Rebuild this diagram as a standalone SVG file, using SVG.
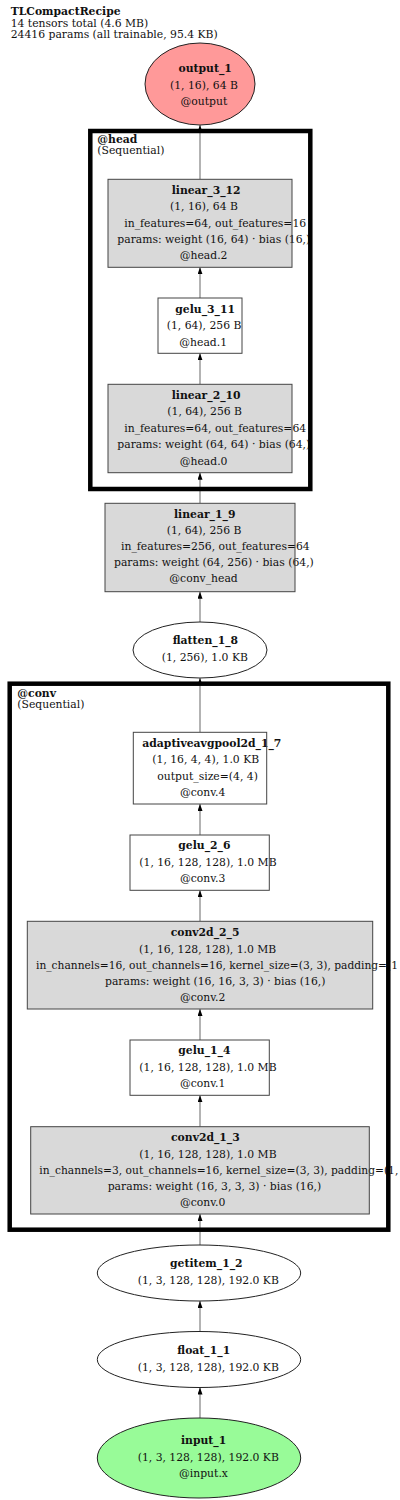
<svg xmlns="http://www.w3.org/2000/svg" width="400" height="1500" viewBox="0 0 400 1500">
<style>
text{font-family:"DejaVu Serif","Liberation Serif",serif;font-size:10.8px;fill:#111}
.b{font-weight:bold}
.fillg{fill:#d9d9d9;stroke:none}
.fillw{fill:#fff;stroke:none}
.bord{fill:none;stroke:#444;stroke-width:1}
.ell{stroke:#222;stroke-width:1}
.edge{stroke:#808080;stroke-width:1.2;fill:none;marker-end:url(#ah)}
.clu{fill:none;stroke:#000;stroke-width:4.5}
</style>
<defs>
<marker id="ah" viewBox="0 0 7 5" refX="7" refY="2.5" markerWidth="7" markerHeight="5" orient="auto" markerUnits="userSpaceOnUse">
<path d="M0,0 L7,2.5 L0,5 z" fill="#000"/>
</marker>
</defs>
<rect width="400" height="1500" fill="#fff"/>

<g id="header">
<text x="10.7" y="15" class="b">TLCompactRecipe</text>
<text x="10.7" y="26.5">14 tensors total (4.6 MB)</text>
<text x="10.7" y="37.5">24416 params (all trainable, 95.4 KB)</text>
</g>

<g id="edges">
<line class="edge" x1="200" y1="1418" x2="200" y2="1387.5"/>
<line class="edge" x1="200" y1="1331.5" x2="200" y2="1301"/>
<line class="edge" x1="200" y1="1245" x2="200" y2="1214"/>
<line class="edge" x1="200" y1="1126.7" x2="200" y2="1095.3"/>
<line class="edge" x1="200" y1="1040" x2="200" y2="1009"/>
<line class="edge" x1="200" y1="921.3" x2="200" y2="890.3"/>
<line class="edge" x1="200" y1="835" x2="200" y2="804"/>
<line class="edge" x1="200" y1="732.3" x2="200" y2="678"/>
<line class="edge" x1="200" y1="622" x2="200" y2="591.7"/>
<line class="edge" x1="200" y1="503.3" x2="200" y2="472.7"/>
<line class="edge" x1="200" y1="384.3" x2="200" y2="353.3"/>
<line class="edge" x1="200" y1="298" x2="200" y2="267.3"/>
<line class="edge" x1="200" y1="179.3" x2="200" y2="125"/>
</g>

<g id="output_1">
<ellipse cx="200" cy="84" rx="55" ry="41" fill="#ff9999" class="ell"/>
<text x="178.5" y="72" class="b">output_1</text>
<text x="170" y="88.5">(1, 16), 64 B</text>
<text x="180.5" y="105">@output</text>
</g>

<g id="linear_3_12">
<rect class="fillg" x="108" y="179.3" width="184" height="88"/>
<text x="171.7" y="193.5" class="b">linear_3_12</text>
<text x="170" y="210">(1, 16), 64 B</text>
<text x="124.3" y="226.5">in_features=64, out_features=16</text>
<text x="117.3" y="243">params: weight (16, 64) · bias (16,)</text>
<text x="179.7" y="259.3">@head.2</text>
<rect class="bord" x="108" y="179.3" width="184" height="88"/>
</g>

<g id="gelu_3_11">
<rect class="fillw" x="158" y="298" width="84" height="55.3"/>
<text x="175.3" y="312.7" class="b">gelu_3_11</text>
<text x="166.7" y="329.3">(1, 64), 256 B</text>
<text x="179.3" y="345.7">@head.1</text>
<rect class="bord" x="158" y="298" width="84" height="55.3"/>
</g>

<g id="linear_2_10">
<rect class="fillg" x="108" y="384.3" width="184" height="88.4"/>
<text x="171.7" y="399" class="b">linear_2_10</text>
<text x="167.3" y="415.3">(1, 64), 256 B</text>
<text x="124.3" y="431.7">in_features=64, out_features=64</text>
<text x="117.3" y="448.3">params: weight (64, 64) · bias (64,)</text>
<text x="179.7" y="464.7">@head.0</text>
<rect class="bord" x="108" y="384.3" width="184" height="88.4"/>
</g>

<g id="linear_1_9">
<rect class="fillg" x="105" y="503.3" width="190" height="88.4"/>
<text x="174" y="517.7" class="b">linear_1_9</text>
<text x="166.7" y="534">(1, 64), 256 B</text>
<text x="121" y="550.3">in_features=256, out_features=64</text>
<text x="114" y="566.3">params: weight (64, 256) · bias (64,)</text>
<text x="169.3" y="582.3">@conv_head</text>
<rect class="bord" x="105" y="503.3" width="190" height="88.4"/>
</g>

<g id="flatten_1_8">
<ellipse cx="200" cy="650" rx="67" ry="28" fill="#fff" class="ell"/>
<text x="172.7" y="644" class="b">flatten_1_8</text>
<text x="161.7" y="660.7">(1, 256), 1.0 KB</text>
</g>

<g id="adaptiveavgpool2d_1_7">
<rect class="fillw" x="133.3" y="732.3" width="133.4" height="71.7"/>
<text x="142.3" y="746.7" class="b">adaptiveavgpool2d_1_7</text>
<text x="152.3" y="763.3">(1, 16, 4, 4), 1.0 KB</text>
<text x="157.3" y="780">output_size=(4, 4)</text>
<text x="180" y="796">@conv.4</text>
<rect class="bord" x="133.3" y="732.3" width="133.4" height="71.7"/>
</g>

<g id="gelu_2_6">
<rect class="fillw" x="130" y="835" width="139.3" height="55.3"/>
<text x="178.3" y="849.3" class="b">gelu_2_6</text>
<text x="139.3" y="866">(1, 16, 128, 128), 1.0 MB</text>
<text x="180" y="882.3">@conv.3</text>
<rect class="bord" x="130" y="835" width="139.3" height="55.3"/>
</g>

<g id="conv2d_2_5">
<rect class="fillg" x="27.3" y="921.3" width="345.4" height="87.7"/>
<text x="170.7" y="936" class="b">conv2d_2_5</text>
<text x="139" y="952.7">(1, 16, 128, 128), 1.0 MB</text>
<text x="36" y="969" textLength="362" lengthAdjust="spacingAndGlyphs">in_channels=16, out_channels=16, kernel_size=(3, 3), padding=(1</text>
<text x="105" y="985">params: weight (16, 16, 3, 3) · bias (16,)</text>
<text x="180" y="1001">@conv.2</text>
<rect class="bord" x="27.3" y="921.3" width="345.4" height="87.7"/>
</g>

<g id="gelu_1_4">
<rect class="fillw" x="130" y="1040" width="139.3" height="55.3"/>
<text x="178.3" y="1054.3" class="b">gelu_1_4</text>
<text x="139.3" y="1071.3">(1, 16, 128, 128), 1.0 MB</text>
<text x="180" y="1087.3">@conv.1</text>
<rect class="bord" x="130" y="1040" width="139.3" height="55.3"/>
</g>

<g id="conv2d_1_3">
<rect class="fillg" x="30.7" y="1126.7" width="338.6" height="87.3"/>
<text x="171" y="1141" class="b">conv2d_1_3</text>
<text x="139.3" y="1157.7">(1, 16, 128, 128), 1.0 MB</text>
<text x="39.3" y="1174" textLength="359" lengthAdjust="spacingAndGlyphs">in_channels=3, out_channels=16, kernel_size=(3, 3), padding=(1,</text>
<text x="107.7" y="1190">params: weight (16, 3, 3, 3) · bias (16,)</text>
<text x="180" y="1206">@conv.0</text>
<rect class="bord" x="30.7" y="1126.7" width="338.6" height="87.3"/>
</g>

<g id="getitem_1_2">
<ellipse cx="199" cy="1273" rx="101.7" ry="28" fill="#fff" class="ell"/>
<text x="170" y="1267.3" class="b">getitem_1_2</text>
<text x="137.7" y="1284.3">(1, 3, 128, 128), 192.0 KB</text>
</g>

<g id="float_1_1">
<ellipse cx="199" cy="1359.5" rx="101.7" ry="28" fill="#fff" class="ell"/>
<text x="177.3" y="1354" class="b">float_1_1</text>
<text x="137.7" y="1370.7">(1, 3, 128, 128), 192.0 KB</text>
</g>

<g id="input_1">
<ellipse cx="199" cy="1458" rx="101.7" ry="40" fill="#98fb98" class="ell"/>
<text x="181" y="1444" class="b">input_1</text>
<text x="137.7" y="1460.7">(1, 3, 128, 128), 192.0 KB</text>
<text x="179" y="1476.7">@input.x</text>
</g>

<g id="clusters">
<g id="cluster_head">
<rect class="clu" x="90.3" y="131" width="220" height="358"/>
<text x="97.3" y="143" class="b">@head</text>
<text x="97.3" y="154">(Sequential)</text>
</g>
<g id="cluster_conv">
<rect class="clu" x="9.7" y="683.7" width="378.6" height="546"/>
<text x="17.3" y="696.7" class="b">@conv</text>
<text x="17.3" y="707.7">(Sequential)</text>
</g>
</g>
</svg>
